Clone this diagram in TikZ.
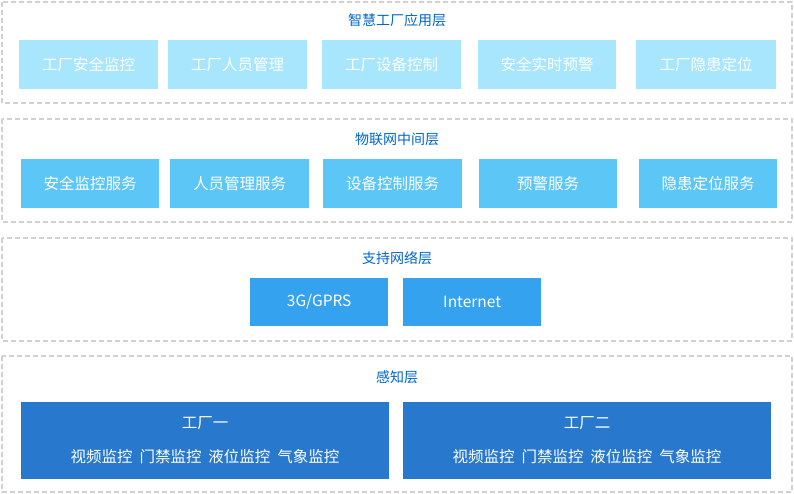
\documentclass[tikz,border=0pt]{standalone}
\usepackage{fontspec}
\setmainfont{Noto Sans CJK SC}
\begin{document}
\begin{tikzpicture}[x=1pt,y=-1pt,
  layer/.style={draw=black!18,dashed,line width=1.2pt,dash pattern=on 5pt off 3pt},
  ttl/.style={text=blue!50!cyan!80!black,font=\fontsize{14}{16}\selectfont},
  bx/.style={anchor=north west,inner sep=0pt,text=white,font=\fontsize{15.5}{18}\selectfont},
  c1/.style={bx,fill=l1},c2/.style={bx,fill=l2},c3/.style={bx,fill=l3}]
\definecolor{l1}{HTML}{A8E6FD}\definecolor{l2}{HTML}{5CC6F7}\definecolor{l3}{HTML}{35A2F0}\definecolor{l4}{HTML}{2878CD}
\colorlet{tt}{blue!50!cyan!80!black}
\useasboundingbox (0,0) rectangle (794,494);
\draw[layer] (2,2) rectangle (792,103);
\draw[layer] (2,119) rectangle (792,222);
\draw[layer] (2,238) rectangle (792,341);
\draw[layer] (2,356) rectangle (792,492);
\node[ttl] (t1) at (397,20) {智慧工厂应用层};
\node[ttl] (t2) at (397,139) {物联网中间层};
\node[ttl] (t3) at (397,258) {支持网络层};
\node[ttl] (t4) at (397,377) {感知层};
\foreach \n/\a/\b/\t in {a/19/158/工厂安全监控,b/168/307/工厂人员管理,c/322/461/工厂设备控制,d/478/616/安全实时预警,e/636/776/工厂隐患定位}
  \node[c1,minimum width=\b-\a,minimum height=49] (\n1) at (\a,40) {\t};
\foreach \n/\a/\b/\t in {a/21/159/安全监控服务,b/170/309/人员管理服务,c/323/462/设备控制服务,d/479/617/预警服务,e/639/777/隐患定位服务}
  \node[c2,minimum width=\b-\a,minimum height=49] (\n2) at (\a,159) {\t};
\node[c3,minimum width=138,minimum height=48] (g) at (250,278) {3G/GPRS};
\node[c3,minimum width=138,minimum height=48] (i) at (403,278) {Internet};
\fill[l4] (21,402) rectangle (389,479);
\fill[l4] (403,402) rectangle (771,479);
\node[bx,anchor=center] (f1) at (205,423) {工厂一};
\node[bx,anchor=center] (f1s) at (205,457) {视频监控\ \ 门禁监控\ \ 液位监控\ \ 气象监控};
\node[bx,anchor=center] (f2) at (587,423) {工厂二};
\node[bx,anchor=center] (f2s) at (587,457) {视频监控\ \ 门禁监控\ \ 液位监控\ \ 气象监控};
\end{tikzpicture}
\end{document}
